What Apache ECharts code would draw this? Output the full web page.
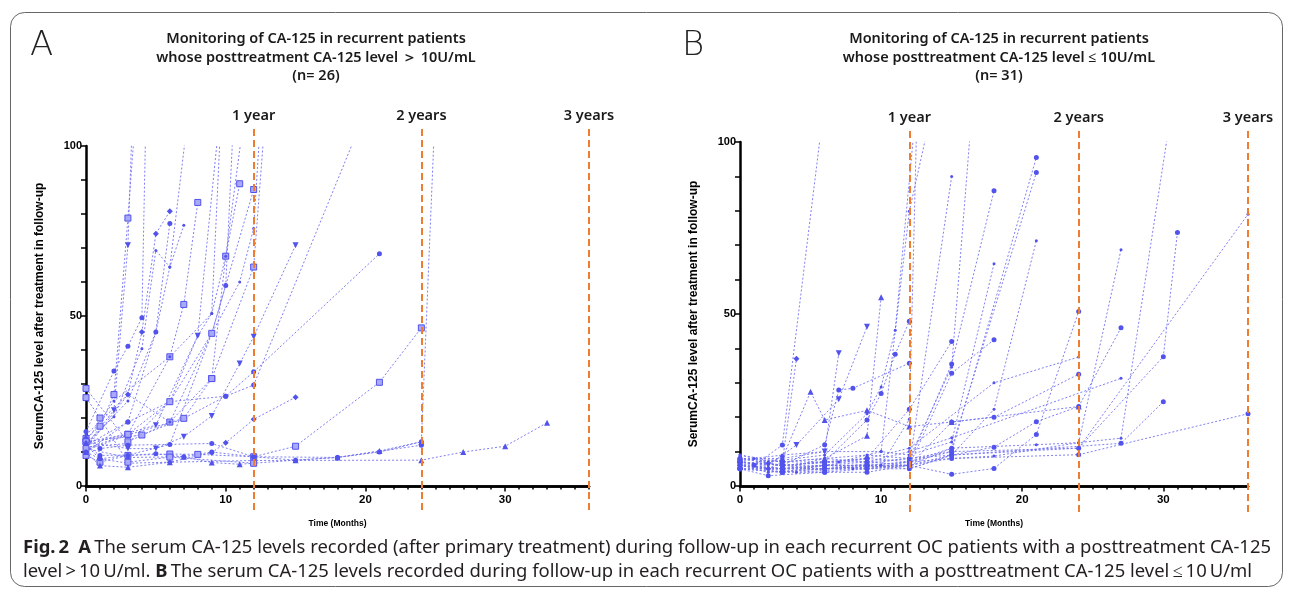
<!DOCTYPE html>
<html>
<head>
<meta charset="utf-8">
<script src="https://cdn.jsdelivr.net/npm/echarts@6.0.0/dist/echarts.min.js"></script>
<style>
html, body { margin: 0; padding: 0; background: #fff; }
#fig { width: 1293px; height: 590px; }
</style>
</head>
<body>
<div id="fig"></div>
<script>
let chart = echarts.init(document.getElementById('fig'));

// 随访月份 / CA-125 值，每个病人一条线
let patientsA = [
    [[0, 14], [1, 17.6], [2, 26.9], [3, 78.8], [3.6, 112]],
    [[0, 12], [2, 22.3], [3, 70.8], [3.35, 112]],
    [[0, 16], [2, 33.8], [3, 41.1], [4, 49.5], [4.3, 112]],
    [[0, 11], [3, 26.9], [4, 45.3], [5, 74.2], [6, 80.8]],
    [[0, 12.5], [2, 20.4], [4, 40.4], [5, 69.3], [6, 64.4], [7, 76.7]],
    [[0, 10], [3, 18.8], [5, 45.3], [6, 77.2]],
    [[0, 13], [3, 15.2], [6, 38], [7, 53.4], [8, 83.4]],
    [[0, 11.5], [3, 12.5], [6, 24.8], [8, 44.2], [9, 50.7], [9.7, 112]],
    [[0, 28.7], [3, 13], [6, 18.8], [9, 31.6], [10, 67.6], [11, 88.9]],
    [[0, 12], [1, 9], [3, 9.1], [6, 12.2], [9, 44.9], [10, 59], [10.6, 112]],
    [[0, 10.5], [3, 15], [7, 19.9], [10, 26.4], [12, 29.7], [19.2, 102]],
    [[0, 12], [1, 8], [3, 6.7], [6, 7], [9, 9.8], [10, 12.7], [12, 19.6], [15, 26.1]],
    [[0, 13], [3, 11], [5, 11], [7, 14.5], [9, 20.6], [11, 36], [12, 43.9], [15, 70.8]],
    [[0, 9], [1, 7], [3, 9], [6, 9.4], [8, 9.3], [12, 8.6], [15, 11.7], [21, 30.5], [24, 46.5]],
    [[0, 11], [3, 8.4], [7, 8.6], [9, 6.9], [11, 6.4], [12, 6.7], [15, 7.6], [18, 8.4], [21, 10.3], [24, 13], [24.9, 102]],
    [[0, 10], [1, 6], [3, 5.5], [6, 7], [12, 7.5], [24, 7.6], [27, 10], [30, 11.7], [33, 18.6]],
    [[0, 14], [1, 11], [3, 12], [9, 12.5], [12, 8.6], [18, 8.4], [24, 12]],
    [[0, 26], [1, 20], [3, 7], [6, 8.5], [12, 6.7]],
    [[0, 12], [3, 18.8], [6, 24.8], [10, 26.4], [12, 33.6], [21, 68.3]],
    [[0, 13], [4, 15], [7, 19.9], [9, 31.6], [12, 64.4], [12.7, 102]],
    [[0, 15], [3, 26.9], [6, 18.8], [9, 44.9], [11, 60], [12, 75.7], [12.4, 102]],
    [[0, 12], [3, 25], [5, 45.3], [6, 64.4], [7.1, 102]],
    [[0, 13], [2, 25], [6, 38], [9, 50.7], [10, 67.6], [11.1, 102]],
    [[0, 12], [5, 17.9], [8, 44.2], [9.4, 102]],
    [[0, 11], [3, 15.2], [6, 24.8], [9, 44.9], [12, 87.2]],
    [[0, 10], [1, 8], [3, 9], [5, 9.5], [7, 8.6], [9, 10], [12, 8.6], [15, 7.6], [18, 8.4], [21, 10], [24, 13]]
];

let patientsB = [
    [[0, 7], [1, 6], [3, 11.9], [5.7, 102]],
    [[0, 6], [2, 5], [3, 7], [4, 37]],
    [[0, 8], [3, 8], [5, 27.4], [6, 19.2], [9, 22], [12, 17.3], [15, 18.6], [24, 23.1]],
    [[0, 7], [2, 6], [4, 11.9], [7, 25.2], [9, 46.3]],
    [[0, 6], [3, 8], [6, 10], [7, 38.6]],
    [[0, 8], [3, 6], [6, 12], [7, 27.9], [8, 28.4], [12, 35.7]],
    [[0, 6], [3, 5], [6, 8], [9, 14.6], [10, 54.9]],
    [[0, 7], [3, 6], [6, 7], [9, 19.2], [10, 26.9], [11, 38.3], [12, 47.9]],
    [[0, 9], [2, 7], [6, 9], [9, 21], [10, 28.8], [11, 45.3], [12.3, 102]],
    [[0, 5], [3, 5], [6, 6], [9, 8], [12, 22.3], [15, 42]],
    [[0, 6], [2, 4], [6, 5], [10, 6], [12, 19.4], [12.5, 102]],
    [[0, 7], [3, 6], [7, 7], [10, 10], [12, 79.9], [13.2, 102]],
    [[0, 5], [3, 4], [6, 5], [9, 6], [12, 7], [15, 35.5], [18, 85.8]],
    [[0, 6], [3, 5], [6, 6], [9, 5], [12, 6], [15, 90]],
    [[0, 8], [3, 7], [6, 8], [9, 7], [12, 8], [15, 34.6], [16.3, 102]],
    [[0, 7], [1, 8], [3, 9], [6, 10], [10, 10], [12, 9], [15, 12.8], [18, 64.6]],
    [[0, 6], [3, 4], [6, 6], [9, 6], [12, 6], [15, 32.8], [18, 42.5]],
    [[0, 5], [2, 3], [6, 4], [9, 4], [12, 6], [15, 11], [21, 91.1]],
    [[0, 7], [3, 6], [6, 7], [9, 8], [12, 7], [15, 10], [21, 95.5]],
    [[0, 6], [4, 4], [8, 5], [12, 5], [15, 9], [18, 22.3], [21, 71.3]],
    [[0, 8], [3, 7], [6, 7], [9, 7], [12, 6], [15, 18.6], [18, 20], [24, 32.5]],
    [[0, 5], [3, 4], [6, 4], [9, 5], [12, 6], [15, 3.4], [18, 5.1], [21, 15], [24, 50.7]],
    [[0, 7], [3, 5], [6, 6], [9, 6], [12, 5], [15, 9], [18, 11.3], [21, 18.7], [24, 23.1], [27, 46]],
    [[0, 6], [3, 5], [6, 5], [9, 5], [12, 7], [15, 8], [18, 8.7], [24, 12.6], [27, 68.7]],
    [[0, 8], [3, 6], [6, 6], [9, 6], [12, 7], [15, 11], [21, 12], [24, 12.6], [27, 13.9], [30.3, 102]],
    [[0, 6], [3, 5], [6, 5], [12, 8], [15, 10], [24, 11], [30, 37.6], [31, 73.7]],
    [[0, 7], [3, 6], [6, 5], [12, 6], [15, 8], [24, 9.1], [36, 21]],
    [[0, 9], [3, 7], [6, 8], [9, 9], [12, 8], [15, 9], [24, 11], [36, 79]],
    [[0, 6], [3, 5], [6, 6], [9, 7], [12, 10], [15, 14], [27, 31.3]],
    [[0, 7], [3, 6], [6, 7], [9, 8], [12, 11], [18, 30], [24, 37.5]],
    [[0, 5], [3, 5], [6, 5], [12, 6], [15, 9], [27, 12.4], [30, 24.5]]
];

// 标记形状: c 圆, s 方, t 三角, v 倒三角, d 菱形, p 小点
let shapeA = 'svcdpcspsccdvsttcscspppvsc';
let shapeB = 'cdtvvctcpcppcpppcccpcccppccpppc';

let yearMarks = [12, 24, 36];
let yearLabels = ['1 year', '2 years', '3 years'];

let titleA = 'Monitoring of CA-125 in recurrent patients\nwhose posttreatment CA-125 level \uFF1E 10U/mL\n(n= 26)';
let titleB = 'Monitoring of CA-125 in recurrent patients\nwhose posttreatment CA-125 level \u2264 10U/mL\n(n= 31)';
let yName = 'SerumCA-125 level after treatment in follow-up';
let xName = 'Time (Months)';

let captionLine1 = 'The serum CA-125 levels recorded (after primary treatment) during follow-up in each recurrent OC patients with a posttreatment CA-125';
let captionLine2a = 'level\u2009>\u200910\u2009U/ml.';
let captionLine2b = 'The serum CA-125 levels recorded during follow-up in each recurrent OC patients with a posttreatment CA-125 level\u2009\u2264\u200910\u2009U/ml';

let blue = '#5252ec';
let orange = '#ee7d31';
let axisFont = 'Liberation Sans';
let captionFont = 'Noto Sans';
let headFont = 'Noto Sans';

// 让图注第一行撑满边框宽度
function fit_size(text, family, target) {
    let ctx = document.createElement('canvas').getContext('2d');
    ctx.font = '100px "' + family + '"';
    return 100 * target / ctx.measureText(text).width;
}

let capSize = fit_size('Fig. 2  A ' + captionLine1, captionFont, 1250);
capSize = Math.max(15, Math.min(capSize, 19));

function symbol_of(code) {
    switch (code) {
        case 's': return {symbol: 'rect', size: 6, rotate: 0, fill: '#a9a9f7'};
        case 't': return {symbol: 'triangle', size: 6, rotate: 0, fill: blue};
        case 'v': return {symbol: 'triangle', size: 6, rotate: 180, fill: blue};
        case 'd': return {symbol: 'diamond', size: 6, rotate: 0, fill: blue};
        case 'p': return {symbol: 'circle', size: 3, rotate: 0, fill: blue};
        default: return {symbol: 'circle', size: 5, rotate: 0, fill: blue};
    }
}

function patient_series(list, shapes, xIdx, yIdx) {
    return list.map((pts, i) => {
        let s = symbol_of(shapes[i]);
        return {
            type: 'line',
            xAxisIndex: xIdx,
            yAxisIndex: yIdx,
            data: pts,
            symbol: s.symbol,
            symbolSize: s.size,
            symbolRotate: s.rotate,
            clip: true,
            silent: true,
            lineStyle: {color: '#7070f2', width: 0.9, type: [2, 2]},
            itemStyle: {color: s.fill, borderColor: blue, borderWidth: shapes[i] === 's' ? 1 : 0}
        };
    });
}

function year_series(xIdx, yIdx) {
    return {
        type: 'line',
        xAxisIndex: xIdx,
        yAxisIndex: yIdx,
        data: [],
        z: 5,
        silent: true,
        markLine: {
            symbol: ['none', 'none'],
            silent: true,
            animation: false,
            lineStyle: {color: orange, width: 2, type: [7, 4]},
            label: {
                show: true,
                position: 'end',
                distance: 6,
                fontSize: 14.5,
                fontFamily: headFont,
                fontWeight: 600,
                color: '#1a1a1a'
            },
            data: yearMarks.map((m, i) => ({xAxis: m, label: {formatter: yearLabels[i]}}))
        }
    };
}

function minor_x(gridIdx) {
    return {
        type: 'value', gridIndex: gridIdx, min: 0, max: 36, interval: 1,
        position: 'bottom',
        axisLine: {onZero: false, lineStyle: {color: '#000', width: 2.5}},
        axisTick: {length: 3.5, lineStyle: {color: '#000', width: 1.5}},
        axisLabel: {show: false},
        splitLine: {show: false}
    };
}

function major_x(gridIdx) {
    return {
        type: 'value', gridIndex: gridIdx, min: 0, max: 36, interval: 10,
        position: 'bottom',
        name: xName,
        nameLocation: 'middle',
        nameGap: 33,
        nameTextStyle: {fontSize: 8.5, fontWeight: 'bold', fontFamily: axisFont, color: '#000'},
        axisLine: {onZero: false, lineStyle: {color: '#000', width: 2.5}},
        axisTick: {length: 5.5, lineStyle: {color: '#000', width: 1.5}},
        axisLabel: {
            margin: 8, fontSize: 11.5, fontWeight: 'bold', fontFamily: axisFont, color: '#000',
            showMaxLabel: false
        },
        splitLine: {show: false}
    };
}

function main_y(gridIdx) {
    return {
        type: 'value', gridIndex: gridIdx, min: 0, max: 100, interval: 50,
        name: yName,
        nameLocation: 'middle',
        nameGap: 40,
        nameTextStyle: {fontSize: 12, fontWeight: 'bold', fontFamily: axisFont, color: '#000'},
        axisLine: {show: true, lineStyle: {color: '#000', width: 2.5}},
        axisTick: {show: true, length: 5, lineStyle: {color: '#000', width: 1.5}},
        minorTick: {show: true, splitNumber: 5, length: 5, lineStyle: {color: '#000', width: 1.5}},
        axisLabel: {margin: 4, fontSize: 11, fontWeight: 'bold', fontFamily: axisFont, color: '#000'},
        splitLine: {show: false}
    };
}

function hidden_x(gridIdx) {
    return {type: 'value', gridIndex: gridIdx, min: 0, max: 36, show: false};
}

function hidden_y(gridIdx) {
    return {type: 'value', gridIndex: gridIdx, min: 0, max: 1, show: false};
}

let titleStyle = {
    fontSize: 14.5, lineHeight: 18.5, fontWeight: 600,
    fontFamily: headFont, color: '#1a1a1a'
};

let letterStyle = {fontSize: 34, fontWeight: 200, fontFamily: 'DejaVu Sans', color: '#222'};

let option = {
    animation: false,
    backgroundColor: '#fff',
    title: [
        {text: 'A', left: 25, top: 24, textStyle: letterStyle},
        {text: 'B', left: 677, top: 24, textStyle: letterStyle},
        {text: titleA, left: 311, top: 25, textAlign: 'center', textStyle: titleStyle},
        {text: titleB, left: 994, top: 25, textAlign: 'center', textStyle: titleStyle},
        {
            text: '{b|Fig.\u20092}\u2002{b|A}\u2009' + captionLine1 + '\n' + captionLine2a + ' {b|B}\u2009' + captionLine2b,
            left: 18, top: 531,
            textStyle: {
                fontSize: capSize, lineHeight: 24, fontWeight: 'normal', fontFamily: captionFont, color: '#231f20',
                rich: {b: {fontSize: capSize, fontWeight: 'bold', fontFamily: captionFont, color: '#231f20'}}
            }
        }
    ],
    graphic: [{
        type: 'rect',
        silent: true,
        shape: {x: 10.5, y: 12.5, width: 1272, height: 574, r: 14},
        style: {fill: 'none', stroke: '#666', lineWidth: 1}
    }],
    grid: [
        {left: 86, top: 146, width: 503, height: 340},
        {left: 86, top: 129, width: 503, height: 381},
        {left: 740, top: 142, width: 508, height: 344},
        {left: 740, top: 131, width: 508, height: 381}
    ],
    xAxis: [
        minor_x(0), major_x(0), hidden_x(1),
        minor_x(2), major_x(2), hidden_x(3)
    ],
    yAxis: [
        main_y(0), hidden_y(1), main_y(2), hidden_y(3)
    ],
    series: [].concat(
        patient_series(patientsA, shapeA, 0, 0),
        patient_series(patientsB, shapeB, 3, 2),
        [year_series(2, 1), year_series(5, 3)]
    )
};

chart.setOption(option);
</script>
</body>
</html>
